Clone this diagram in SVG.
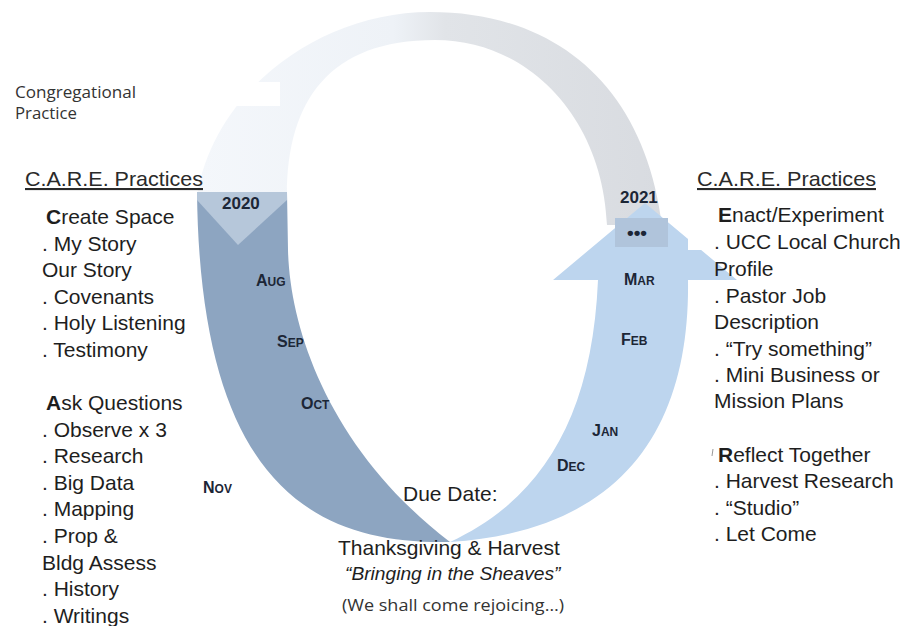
<svg xmlns="http://www.w3.org/2000/svg" width="922" height="626" viewBox="0 0 922 626">
<defs>
<linearGradient id="arcGrad" x1="197" y1="0" x2="665" y2="0" gradientUnits="userSpaceOnUse">
<stop offset="0" stop-color="#f4f7fb"/>
<stop offset="0.42" stop-color="#eef2f7"/>
<stop offset="0.53" stop-color="#e1e4e8"/>
<stop offset="1" stop-color="#d8dbe0"/>
</linearGradient>
<style>
.t{font-family:"Liberation Sans",Arial,sans-serif;font-size:21px;fill:#1e1e1e}
.h{font-family:"Liberation Sans",Arial,sans-serif;font-size:21px;fill:#2a2a2a;text-decoration:underline}
.m{font-family:"Liberation Sans",Arial,sans-serif;font-weight:bold;fill:#1c2636}
.c{font-family:"Open Sans","Noto Sans",sans-serif;fill:#333}
.b{font-weight:bold}
.q{font-family:"Liberation Sans",Arial,sans-serif;font-size:19.2px;font-style:italic;fill:#1e1e1e}
</style>
</defs>
<rect width="922" height="626" fill="#ffffff"/>

<g id="cycle">
<path id="top-arc" d="M197,195 C215,90 320,12 430,12 C560,12 645,90 662,225 L607,225 C603,120 530,40 435,40 C330,40 287,100 287,195 Z" fill="url(#arcGrad)"/>
<path id="left-band" d="M197,192 L287,192 L288,250 C290,330 330,450 450,542 C310,545 200,480 197,192 Z" fill="#8da5c1"/>
<polygon id="left-chevron" points="197,192 287,192 287,200 238,245 197,200" fill="#b6c7da"/>
<path id="right-band" d="M450,542 C540,500 592,420 598,280 L553,280 L645,203 L737,280 L688,280 C690,420 630,530 450,542 Z" fill="#bdd5ee"/>
<rect id="dots-box" x="615" y="218" width="53" height="29" fill="#b0c4db"/>
</g>

<g id="masks">
<rect x="137" y="82" width="143" height="24" fill="#ffffff"/>
<rect x="80" y="105" width="82" height="19" fill="#ffffff"/>
<rect x="688" y="192" width="234" height="58" fill="#ffffff"/>
</g>

<g id="title">
<text class="c" x="15" y="98" font-size="16" textLength="121" lengthAdjust="spacingAndGlyphs">Congregational</text>
<text class="c" x="15" y="119" font-size="16" textLength="62" lengthAdjust="spacingAndGlyphs">Practice</text>
</g>

<g id="left-list">
<text class="h" x="25" y="186" textLength="178" lengthAdjust="spacingAndGlyphs">C.A.R.E. Practices</text>
<text class="t" x="46" y="224"><tspan class="b">C</tspan>reate Space</text>
<text class="t" x="42" y="251">. My Story</text>
<text class="t" x="42" y="277">Our Story</text>
<text class="t" x="42" y="304">. Covenants</text>
<text class="t" x="42" y="330">. Holy Listening</text>
<text class="t" x="42" y="357">. Testimony</text>
<text class="t" x="46" y="410"><tspan class="b">A</tspan>sk Questions</text>
<text class="t" x="42" y="437">. Observe x 3</text>
<text class="t" x="42" y="463">. Research</text>
<text class="t" x="42" y="490">. Big Data</text>
<text class="t" x="42" y="516">. Mapping</text>
<text class="t" x="42" y="543">. Prop &amp;</text>
<text class="t" x="42" y="570">Bldg Assess</text>
<text class="t" x="42" y="596">. History</text>
<text class="t" x="42" y="623">. Writings</text>
</g>

<g id="right-list">
<text class="h" x="697" y="186" textLength="179" lengthAdjust="spacingAndGlyphs">C.A.R.E. Practices</text>
<text class="t" x="718" y="222"><tspan class="b">E</tspan>nact/Experiment</text>
<text class="t" x="714" y="249">. UCC Local Church</text>
<text class="t" x="714" y="276">Profile</text>
<text class="t" x="714" y="303">. Pastor Job</text>
<text class="t" x="714" y="329">Description</text>
<text class="t" x="714" y="356">. “Try something”</text>
<text class="t" x="714" y="382">. Mini Business or</text>
<text class="t" x="714" y="408">Mission Plans</text>
<line x1="713" y1="449" x2="712" y2="456" stroke="#999" stroke-width="1"/>
<text class="t" x="718" y="462"><tspan class="b">R</tspan>eflect Together</text>
<text class="t" x="714" y="488">. Harvest Research</text>
<text class="t" x="714" y="515">. “Studio”</text>
<text class="t" x="714" y="541">. Let Come</text>
</g>

<g id="months">
<text class="m" x="222" y="209" font-size="17">2020</text>
<text class="m" x="620" y="203" font-size="17">2021</text>
<text class="m" x="627" y="239" font-size="19">•••</text>
<text class="m" x="256" y="286"><tspan font-size="16">A</tspan><tspan font-size="12">UG</tspan></text>
<text class="m" x="277" y="347"><tspan font-size="16">S</tspan><tspan font-size="12">EP</tspan></text>
<text class="m" x="301" y="409"><tspan font-size="16">O</tspan><tspan font-size="12">CT</tspan></text>
<text class="m" x="203" y="493"><tspan font-size="16">N</tspan><tspan font-size="12">OV</tspan></text>
<text class="m" x="557" y="471"><tspan font-size="16">D</tspan><tspan font-size="12">EC</tspan></text>
<text class="m" x="592" y="436"><tspan font-size="16">J</tspan><tspan font-size="12">AN</tspan></text>
<text class="m" x="621" y="345"><tspan font-size="16">F</tspan><tspan font-size="12">EB</tspan></text>
<text class="m" x="624" y="285"><tspan font-size="16">M</tspan><tspan font-size="12">AR</tspan></text>
</g>

<g id="due-date">
<text class="t" x="403" y="501">Due Date:</text>
<text class="t" x="338" y="555">Thanksgiving &amp; Harvest</text>
<text class="q" x="345" y="580">“Bringing in the Sheaves”</text>
<text class="c" x="342" y="611" font-size="16" textLength="222" lengthAdjust="spacingAndGlyphs">(We shall come rejoicing…)</text>
</g>
</svg>
